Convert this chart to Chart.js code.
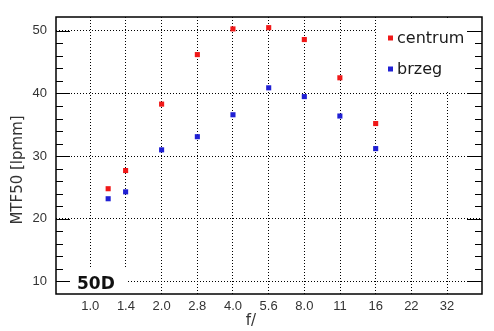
<!DOCTYPE html>
<html>
<head>
<meta charset="utf-8">
<script src="https://cdn.jsdelivr.net/npm/chart.js@4/dist/chart.umd.min.js"></script>
<style>
  body { margin: 0; background: #fff; }
  canvas { display: block; }
</style>
</head>
<body>
<canvas id="mtf" width="494" height="331"></canvas>
<script>
// aperture values of the measured points (real f-numbers, so they sit on the stop grid)
const apertures = [1.19, 1.41, 2.0, 2.83, 4.0, 5.66, 8.0, 11.3, 16];
const centrum = [24.8, 27.7, 38.3, 46.2, 50.3, 50.5, 48.6, 42.5, 35.2];
const brzeg = [23.2, 24.3, 31.0, 33.1, 36.6, 40.9, 39.5, 36.4, 31.2];

// axis labels, one per full stop starting at f/1.0
const fLabels = ['1.0', '1.4', '2.0', '2.8', '4.0', '5.6', '8.0', '11', '16', '22', '32'];
const yTicks = [10, 20, 30, 40, 50];

const camera = '50D';
const seriesNames = ['centrum', 'brzeg'];
const red = 'rgb(240,24,24)';
const blue = 'rgb(32,32,212)';

// f-number -> stops from f/1.0
function stop(f) { return 2 * Math.log2(f); }

function points(vals) {
    return vals.map((v, i) => ({ x: stop(apertures[i]), y: v }));
}

const decor = {
    id: 'decor',
    beforeDatasetsDraw(chart) {
        const ctx = chart.ctx;
        const a = chart.chartArea;
        ctx.save();
        ctx.fillStyle = '#fff';
        // boxes behind the camera name and the legend
        ctx.fillRect(a.left + 1, 268, 125 - a.left, a.bottom - 268);
        ctx.fillRect(377, a.top + 1, a.right - 377, 91 - a.top);
        ctx.restore();
    },
    afterDraw(chart) {
        const ctx = chart.ctx;
        const a = chart.chartArea;
        const y = chart.scales.y;
        ctx.save();
        ctx.strokeStyle = '#000';
        ctx.lineWidth = 1.5;
        ctx.strokeRect(a.left, a.top, a.right - a.left, a.bottom - a.top);

        // inward ticks on both sides, minor every 2
        ctx.lineWidth = 1.2;
        ctx.beginPath();
        for (let v = 8; v <= 52; v += 2) {
            const py = Math.round(y.getPixelForValue(v)) + 0.5;
            if (py < a.top + 2 || py > a.bottom - 2) continue;
            const major = v % 10 === 0;
            ctx.moveTo(a.left, py);
            ctx.lineTo(a.left + (major ? 14 : 7), py);
            ctx.moveTo(a.right, py);
            ctx.lineTo(a.right - (major ? 15 : 7), py);
        }
        ctx.stroke();

        // legend
        const rows = [[red, 43], [blue, 74]];
        ctx.font = '16px "DejaVu Sans"';
        ctx.textBaseline = 'alphabetic';
        rows.forEach((r, i) => {
            ctx.fillStyle = r[0];
            ctx.fillRect(388, r[1] - 7.5, 5, 5);
            ctx.fillStyle = '#1a1a1a';
            ctx.fillText(seriesNames[i], 397, r[1]);
        });

        ctx.font = 'bold 17px "DejaVu Sans"';
        ctx.fillStyle = '#111';
        ctx.fillText(camera, 77, 289);

        // axis titles
        ctx.font = '15px "DejaVu Sans"';
        ctx.fillStyle = '#333';
        ctx.textAlign = 'center';
        ctx.fillText('f/', 251, 325);
        ctx.translate(22, 170);
        ctx.rotate(-Math.PI / 2);
        ctx.fillText('MTF50 [lpmm]', 0, 0);
        ctx.restore();
    }
};

new Chart(document.getElementById('mtf'), {
    type: 'scatter',
    data: {
        datasets: [
            { label: seriesNames[0], data: points(centrum), backgroundColor: red },
            { label: seriesNames[1], data: points(brzeg), backgroundColor: blue }
        ]
    },
    options: {
        responsive: false,
        animation: false,
        layout: { padding: { top: 17, right: 12, left: 0, bottom: 0 } },
        elements: { point: { pointStyle: 'rect', radius: 3.6, borderWidth: 0, hoverRadius: 3.6 } },
        plugins: { legend: { display: false }, tooltip: { enabled: false } },
        scales: {
            x: {
                type: 'linear',
                min: -0.96,
                max: 10.98,
                afterFit(s) { s.height = 37; },
                afterBuildTicks(s) { s.ticks = fLabels.map((_, i) => ({ value: i })); },
                grid: { color: '#000', lineWidth: 1, drawTicks: false },
                border: { display: false, dash: [1, 2] },
                ticks: {
                    padding: 5,
                    color: '#333',
                    font: { family: 'Liberation Sans', size: 13 },
                    maxRotation: 0,
                    autoSkip: false,
                    callback: v => fLabels[v]
                }
            },
            y: {
                min: 8,
                max: 52.2,
                afterFit(s) { s.width = 56; },
                afterBuildTicks(s) { s.ticks = yTicks.map(v => ({ value: v })); },
                grid: { color: '#000', lineWidth: 1, drawTicks: false },
                border: { display: false, dash: [1, 2] },
                ticks: {
                    padding: 9,
                    color: '#333',
                    font: { family: 'Liberation Sans', size: 13 }
                }
            }
        }
    },
    plugins: [decor]
});
</script>
</body>
</html>
